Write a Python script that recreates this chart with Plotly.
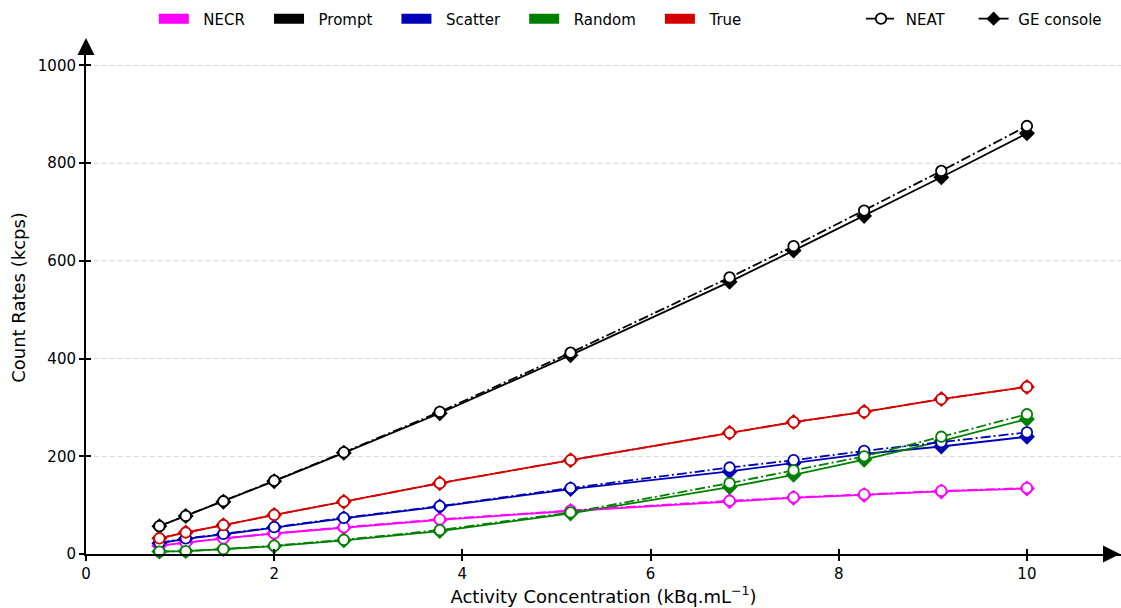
import plotly.graph_objects as go

# ---- data ----
activity = [0.78, 1.06, 1.46, 2.00, 2.74, 3.76, 5.15, 6.84, 7.52, 8.27, 9.09, 10.00]

necr_neat    = [17, 23, 32, 42, 55, 71, 89, 109, 116, 122, 129, 135]
necr_ge      = [17, 23, 32, 42, 54, 70, 88, 108, 115, 121, 128, 134]
prompt_neat  = [57, 78, 108, 150, 208, 291, 412, 566, 630, 703, 784, 876]
prompt_ge    = [57, 78, 107, 149, 207, 288, 407, 557, 621, 692, 771, 861]
scatter_neat = [23, 32, 41, 55, 74, 98, 135, 177, 192, 211, 229, 249]
scatter_ge   = [22, 31, 40, 54, 73, 97, 133, 169, 186, 205, 220, 240]
random_neat  = [5, 6, 10, 17, 29, 49, 85, 145, 171, 200, 240, 286]
random_ge    = [5, 6, 10, 16, 28, 47, 83, 137, 162, 193, 231, 276]
true_neat    = [32, 44, 59, 80, 107, 145, 192, 248, 270, 291, 317, 342]
true_ge      = [32, 44, 59, 80, 107, 145, 192, 248, 270, 291, 317, 342]

series_names = ["NECR", "Prompt", "Scatter", "Random", "True"]
series_colors = ["#ff00ff", "#000000", "#0000b4", "#008000", "#d40000"]
neat_values = [necr_neat, prompt_neat, scatter_neat, random_neat, true_neat]
ge_values = [necr_ge, prompt_ge, scatter_ge, random_ge, true_ge]

x_ticks = [0, 2, 4, 6, 8, 10]
y_ticks = [0, 200, 400, 600, 800, 1000]

FONT = "DejaVu Sans"
DASHDOT = "10px,3px,2px,3px"
NB = "\u00a0"
LW = 1.8

fig = go.Figure()

# GE console (solid, filled diamonds) drawn first, NEAT (dash-dot, open circles) on top
for name, col, ge in zip(series_names, series_colors, ge_values):
    fig.add_trace(go.Scatter(
        x=activity, y=ge, mode="lines+markers", showlegend=False,
        line=dict(color=col, width=LW),
        marker=dict(symbol="diamond", size=11, color=col, line=dict(color=col, width=1.2)),
        cliponaxis=False, name=name + " GE"))
for name, col, ne in zip(series_names, series_colors, neat_values):
    fig.add_trace(go.Scatter(
        x=activity, y=ne, mode="lines+markers", showlegend=False,
        line=dict(color=col, width=LW, dash=DASHDOT),
        marker=dict(symbol="circle", size=10.5, color="white", line=dict(color=col, width=1.8)),
        cliponaxis=False, name=name + " NEAT"))

# legend 1: colour patches
for i, (name, col) in enumerate(zip(series_names, series_colors)):
    label = NB * 2 + name + (NB * 4 if i < len(series_names) - 1 else "")
    fig.add_trace(go.Scatter(
        x=[None], y=[None], mode="lines", name=label, legend="legend",
        line=dict(color=col, width=15)))

# legend 2: line styles
fig.add_trace(go.Scatter(
    x=[None], y=[None], mode="lines+markers", name=NB + "NEAT" + NB * 5, legend="legend2",
    line=dict(color="black", width=LW, dash=DASHDOT),
    marker=dict(symbol="circle", size=10.5, color="white", line=dict(color="black", width=1.8))))
fig.add_trace(go.Scatter(
    x=[None], y=[None], mode="lines+markers", name=NB + "GE console", legend="legend2",
    line=dict(color="black", width=LW),
    marker=dict(symbol="diamond", size=11, color="black")))

# invisible trace to activate overlay axes (inward half of the ticks)
fig.add_trace(go.Scatter(x=[None], y=[None], xaxis="x2", yaxis="y2", showlegend=False,
                         hoverinfo="skip"))

axis_common = dict(showline=True, linecolor="black", linewidth=2, ticks="outside",
                   ticklen=5, tickwidth=2, tickcolor="black", zeroline=False,
                   tickfont=dict(family=FONT, size=15, color="black"))

fig.update_layout(
    width=1121, height=608,
    margin=dict(l=86, r=0, t=41, b=54),
    paper_bgcolor="white", plot_bgcolor="white",
    font=dict(family=FONT, color="black"),
    xaxis=dict(range=[0, 11], tickvals=x_ticks, showgrid=False,
               title=dict(text="Activity Concentration (kBq.mL<sup>−1</sup>)",
                          font=dict(family=FONT, size=18), standoff=6),
               **axis_common),
    yaxis=dict(range=[0, 1050], tickvals=y_ticks, showgrid=True,
               gridcolor="#d9d9d9", gridwidth=1, griddash="5px,3px",
               title=dict(text="Count Rates (kcps)", font=dict(family=FONT, size=18), standoff=8),
               **axis_common),
    xaxis2=dict(range=[0, 11], tickvals=x_ticks, overlaying="x", anchor="y2",
                showticklabels=False, showgrid=False, zeroline=False, showline=False,
                ticks="inside", ticklen=5, tickwidth=2, tickcolor="black"),
    yaxis2=dict(range=[0, 1050], tickvals=y_ticks, overlaying="y", anchor="x2",
                showticklabels=False, showgrid=False, zeroline=False, showline=False,
                ticks="inside", ticklen=5, tickwidth=2, tickcolor="black"),
    legend=dict(orientation="h", x=0.352, xanchor="center", y=1.043, yanchor="middle",
                font=dict(family=FONT, size=15), bgcolor="rgba(0,0,0,0)"),
    legend2=dict(orientation="h", x=0.9865, xanchor="right", y=1.043, yanchor="middle",
                 font=dict(family=FONT, size=15), bgcolor="rgba(0,0,0,0)"),
    annotations=[
        dict(x=1, y=0, xref="paper", yref="paper", ax=-14, ay=0,
             text="", showarrow=True, arrowhead=2, arrowsize=1.7, arrowwidth=2, arrowcolor="black"),
        dict(x=0, y=1.006, xref="paper", yref="paper", ax=0, ay=14, text="", showarrow=True,
             arrowhead=2, arrowsize=1.7, arrowwidth=2, arrowcolor="black"),
    ],
)

fig.write_html("out.html")
